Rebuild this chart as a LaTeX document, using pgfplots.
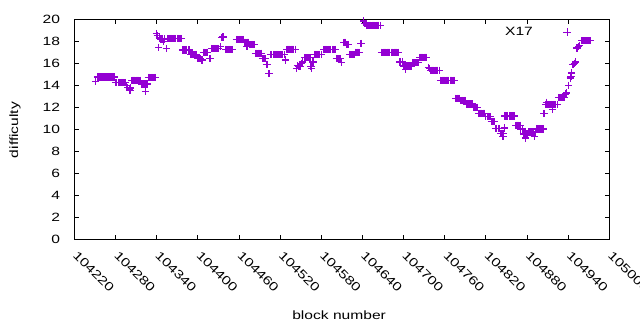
\documentclass[border=0pt]{standalone}
\usepackage{pgfplots}
\pgfplotsset{compat=1.18}
\usepackage{fontspec}
\setmainfont{Liberation Sans}[FakeStretch=1.3]
\definecolor{dv}{RGB}{148,0,211}
\begin{document}
\fontsize{12bp}{14bp}\selectfont
\begin{tikzpicture}
\path[use as bounding box] (-74.3bp,-91bp) rectangle (565.7bp,239bp);
\begin{axis}[
  scale only axis, width=535bp, height=219.7bp,
  xmin=104220, xmax=105000, ymin=0, ymax=20,
  xtick={104220,104280,104340,104400,104460,104520,104580,104640,104700,104760,104820,104880,104940,105000},
  ytick={0,2,...,20},
  scaled x ticks=false,
  /pgf/number format/assume math mode=true,
  /pgf/number format/fixed,
  /pgf/number format/precision=0,
  /pgf/number format/1000 sep={},
  tick align=inside, major tick length=4.5bp,
  tick style={black, line width=0.8bp},
  axis line style={black, line width=0.9bp},
  xticklabel style={xshift=4bp, yshift=-11bp, rotate=-45, anchor=north west, inner sep=0pt},
  yticklabel style={anchor=east, inner sep=0pt, xshift=-14bp},
  xlabel={block number},
  xlabel style={at={(axis description cs:0.495,0)}, yshift=-76bp, anchor=center},
  ylabel={difficulty},
  ylabel style={at={(axis description cs:-0.1108,0.496)}, anchor=center},
  legend plot pos=right,
  legend style={draw=none, fill=none, inner sep=0pt, at={(axis description cs:0.9283,0.942)}, anchor=east, font=\fontsize{12bp}{14bp}\selectfont},
]
\addplot[only marks, mark=+, mark size=3.65bp, line width=1.3bp, color=dv,
  legend image code/.code={\path[draw=none] (0bp,0bp) -- (35.85bp,0bp); \draw[line width=1bp] plot coordinates {(32.2bp,0bp)};}]
coordinates {
(104251,14.35)
(104254,14.75)(104256,14.75)(104258,14.75)(104260,14.75)(104262,14.75)(104264,14.75)(104266,14.75)(104268,14.75)(104270,14.75)(104272,14.75)(104274,14.75)(104276,14.75)(104278,14.75)
(104280,14.25)(104282,14.25)(104284,14.25)(104286,14.25)(104288,14.25)(104290,14.25)(104292,14.25)(104294,14.25)
(104296,13.95)(104298,13.8)(104300,13.65)(104301,13.5)(104302,13.75)
(104304,14.45)(104306,14.45)(104308,14.45)(104310,14.45)(104312,14.45)(104314,14.45)(104316,14.45)
(104318,14.1)(104320,14.1)(104322,14.1)(104324,14.1)(104326,14.1)(104324,13.45)
(104328,14.7)(104330,14.7)(104332,14.7)(104334,14.7)(104336,14.7)(104338,14.7)
(104340,18.7)(104341,18.5)(104343,17.45)(104344,18.3)(104346,18.2)(104348,18.2)(104350,18.0)(104352,18.2)(104354,17.35)
(104356,18.25)(104358,18.25)(104360,18.25)(104362,18.25)(104364,18.25)(104366,18.25)(104368,18.25)(104370,18.25)(104372,18.25)(104374,18.25)(104376,18.25)
(104378,17.2)(104380,17.2)(104382,17.2)(104384,17.2)(104386,17.2)(104388,17.2)
(104390,16.8)(104392,16.8)(104394,16.8)(104396,16.8)(104398,16.8)
(104400,16.4)(104402,16.4)(104404,16.4)(104406,16.3)
(104408,17.0)(104410,17.0)(104412,17.0)(104414,17.0)
(104418,16.4)
(104420,17.35)(104422,17.35)(104424,17.35)(104426,17.35)(104428,17.35)(104430,17.35)
(104433,17.5)(104435,18.35)(104437,18.4)
(104440,17.25)(104442,17.25)(104444,17.25)(104446,17.25)(104448,17.25)(104450,17.25)
(104456,18.15)(104458,18.15)(104460,18.15)(104462,18.15)(104464,18.15)(104466,18.15)
(104468,17.9)(104470,17.9)(104472,17.9)(104474,17.9)(104476,17.7)(104478,17.7)(104480,17.7)(104482,17.7)(104472,17.55)
(104484,16.9)(104486,16.9)(104488,16.9)(104490,16.9)(104492,16.9)
(104494,16.4)(104496,16.4)(104498,16.4)
(104500,15.9)(104502,15.9)
(104504,15.05)
(104506,16.8)(104508,16.8)(104510,16.8)(104512,16.8)(104514,16.8)(104516,16.8)(104518,16.8)(104520,16.8)(104522,16.8)(104524,16.8)(104526,16.8)
(104528,16.3)
(104530,17.27)(104532,17.27)(104534,17.27)(104536,17.27)(104538,17.27)(104540,17.27)(104542,17.27)
(104544,15.5)(104545,15.8)(104547,15.7)(104549,15.7)
(104551,16.0)(104553,16.1)
(104556,16.5)(104558,16.5)(104560,16.5)(104562,16.5)(104564,16.5)
(104565,15.7)(104566,15.5)
(104568,16.1)
(104570,16.8)(104572,16.8)(104574,16.8)(104576,16.8)(104578,16.8)(104580,16.8)
(104584,17.25)(104586,17.25)(104588,17.25)(104590,17.25)(104592,17.25)(104594,17.25)(104596,17.25)(104598,17.25)(104600,17.25)
(104602,16.4)(104604,16.4)(104606,16.4)(104608,16.4)(104610,16.05)
(104613,17.9)(104615,17.9)(104617,17.7)(104619,17.7)
(104622,16.8)(104624,16.8)(104626,16.8)(104628,16.8)(104630,17.0)(104632,17.0)(104634,17.0)(104636,17.0)(104638,17.8)
(104642,19.85)(104644,19.6)
(104646,19.45)(104648,19.45)(104650,19.45)(104652,19.45)(104654,19.45)(104656,19.45)(104658,19.45)(104660,19.45)(104662,19.45)(104664,19.45)(104666,19.45)
(104668,17.0)(104670,17.0)(104672,17.0)(104674,17.0)(104676,17.0)(104678,17.0)(104680,17.0)(104682,17.0)(104684,17.0)(104686,17.0)(104688,17.0)(104690,17.0)(104692,17.0)
(104694,16.1)(104696,16.1)(104698,16.1)
(104700,15.75)(104702,15.75)(104704,15.75)(104706,15.75)(104708,15.75)(104710,15.75)(104712,15.75)(104703,15.4)
(104714,16.05)(104716,16.05)(104718,16.05)(104720,16.05)(104722,16.05)
(104724,16.55)(104726,16.55)(104728,16.55)(104730,16.55)(104732,16.55)(104734,16.55)
(104736,15.6)(104738,15.55)
(104740,15.35)(104742,15.35)(104744,15.35)(104746,15.35)(104748,15.35)(104750,15.35)(104752,15.35)
(104754,14.45)(104756,14.45)(104758,14.45)(104760,14.45)(104762,14.45)(104764,14.45)(104766,14.45)(104768,14.45)(104770,14.45)(104772,14.45)(104774,14.45)
(104776,12.8)(104778,12.8)(104780,12.8)(104782,12.8)(104784,12.6)(104786,12.6)(104788,12.6)(104790,12.6)
(104792,12.3)(104794,12.3)(104796,12.3)(104798,12.3)(104800,12.3)(104802,12.0)(104804,12.0)(104806,12.0)(104808,12.0)
(104810,11.45)(104812,11.45)(104814,11.45)(104816,11.45)(104818,11.45)(104820,11.15)(104822,11.15)(104824,11.15)(104826,11.15)
(104828,10.7)(104830,10.7)(104832,10.7)(104834,10.05)(104836,10.05)(104838,10.05)(104840,10.05)
(104842,9.6)(104844,9.6)(104846,9.6)(104845,9.35)(104847,10.1)
(104848,11.2)(104850,11.2)(104852,11.2)(104854,11.2)(104856,11.2)(104858,11.2)(104860,11.2)(104862,11.2)
(104864,10.35)(104866,10.35)(104868,10.35)(104870,10.35)(104871,10.0)(104873,10.0)
(104875,9.55)(104877,9.55)(104879,9.55)(104881,9.55)(104878,9.2)
(104882,9.75)(104884,9.75)(104886,9.75)(104888,9.75)(104890,9.75)(104892,9.75)(104891,9.3)
(104894,10.0)(104896,10.0)(104898,10.0)(104900,10.0)(104902,10.0)(104904,10.0)
(104905,11.4)
(104907,12.25)(104909,12.25)(104911,12.25)(104913,12.25)(104915,12.25)(104908,12.45)
(104917,11.8)(104918,12.25)(104920,12.25)(104922,12.25)(104924,12.25)
(104926,12.85)(104928,12.85)(104930,12.85)(104932,12.85)(104934,12.85)(104936,13.2)(104938,13.3)
(104941,14.0)(104943,14.65)(104944,14.8)(104945,15.1)
(104947,15.9)(104949,16.0)(104951,16.1)
(104953,17.4)(104955,17.5)(104957,17.6)
(104960,18.05)(104962,18.05)(104964,18.05)(104966,18.05)(104968,18.05)(104970,18.05)(104972,18.05)
};
\addlegendentry{X17}
\end{axis}
\end{tikzpicture}
\end{document}
